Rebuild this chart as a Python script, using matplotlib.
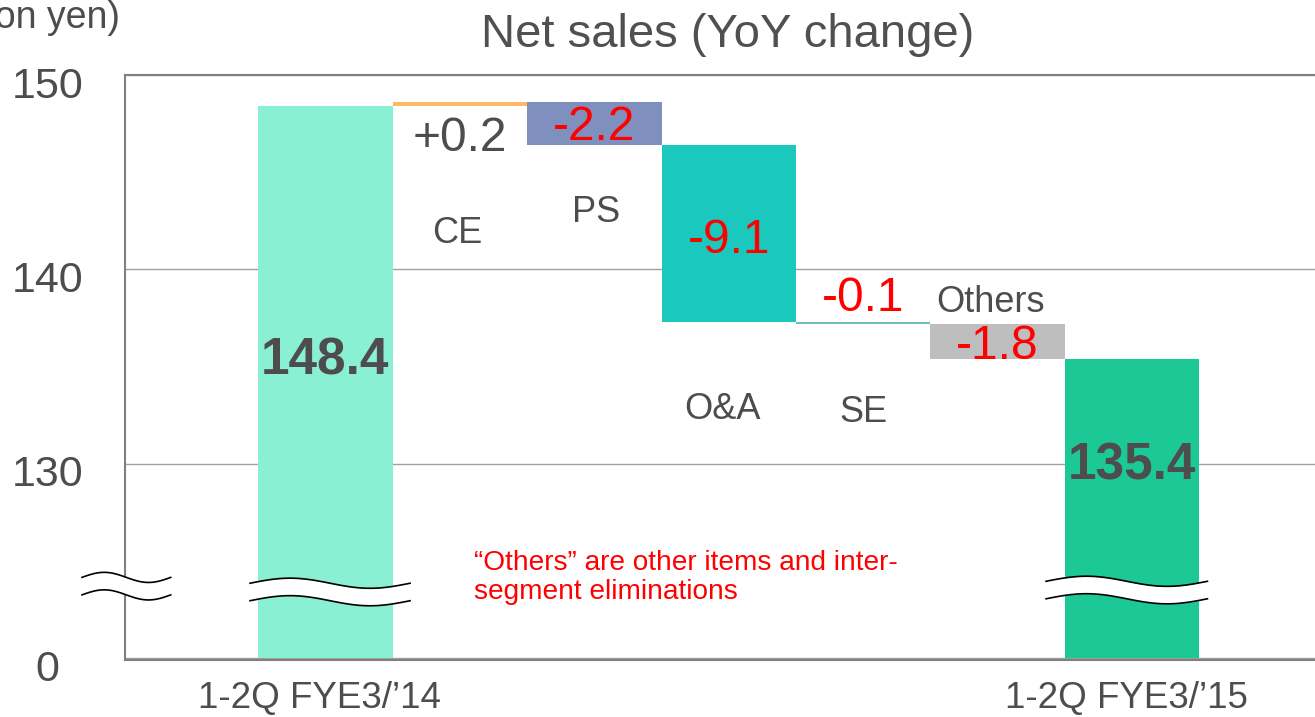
import numpy as np
import matplotlib.pyplot as plt
from matplotlib.transforms import ScaledTranslation

plt.rcParams['font.family'] = ['Liberation Sans', 'DejaVu Sans']

# data (billion yen)
start_label = "1-2Q FYE3/\u201914"
end_label = "1-2Q FYE3/\u201915"
start_value = 148.4
end_value = 135.4
segments = ["CE", "PS", "O&A", "SE", "Others"]
deltas = [0.2, -2.2, -9.1, -0.1, -1.8]
delta_texts = ["+0.2", "-2.2", "-9.1", "-0.1", "-1.8"]
yticks = [120, 130, 140, 150]
ytick_labels = ["0", "130", "140", "150"]

base = 120  # broken axis: bottom of the plot stands for zero

start_color = "#8AF0D4"
end_color = "#1CC896"
seg_colors = ["#FFB866", "#8090BE", "#1AC8BE", "#6CC0B6", "#BEBEBE"]
gray_txt = "#4D4D4D"
red = "#FF0000"

fig = plt.figure(figsize=(13.15, 7.17), dpi=100)
ax = fig.add_axes([125 / 1315, 1 - 660 / 717, 1 - 125 / 1315, 585 / 717])

x = np.arange(len(segments) + 2)

# start and end bars
ax.bar(x[0], start_value - base, bottom=base, width=1.0, color=start_color, zorder=2)
ax.bar(x[-1], end_value - base, bottom=base, width=1.0, color=end_color, zorder=2)

# floating bars
level = start_value
for i, d in enumerate(deltas):
    lo = min(level, level + d)
    ax.bar(x[i + 1], abs(d), bottom=lo, width=1.0, color=seg_colors[i], zorder=2)
    level += d

# value labels
ax.text(x[0], 135.26, f"{start_value:.1f}", ha="center", va="center",
        fontsize=37, fontweight="bold", color=gray_txt, zorder=4)
ax.text(x[-1], 129.86, f"{end_value:.1f}", ha="center", va="center",
        fontsize=37, fontweight="bold", color=gray_txt, zorder=4)

delta_y = [146.71, 147.31, 141.48, 138.5, 136.03]
name_y = [141.85, 142.9, 132.78, 132.63, 138.28]
name_dx = [-0.02, 0.01, -0.045, 0.0, -0.05]
for i in range(len(segments)):
    c = gray_txt if deltas[i] > 0 else red
    ax.text(x[i + 1], delta_y[i], delta_texts[i], ha="center", va="center",
            fontsize=34.5, color=c, zorder=4)
    ax.text(x[i + 1] + name_dx[i], name_y[i], segments[i], ha="center", va="center",
            fontsize=26, color=gray_txt, zorder=4)

ax.text(1.106, 124.15, "\u201cOthers\u201d are other items and inter-\nsegment eliminations",
        ha="left", va="center", fontsize=20.2, color=red, linespacing=1.12, zorder=4)


# break marks
def wave(x0, x1, yc, gap=0.9, amp=0.26, clip=True):
    t = np.linspace(0, 1, 100)
    xs = x0 + (x1 - x0) * t
    yw = amp * np.sin(2 * np.pi * t)
    ax.fill_between(xs, yc + gap / 2 + yw, yc - gap / 2 + yw, color="white",
                    zorder=5, clip_on=clip, lw=0)
    ax.plot(xs, yc + gap / 2 + yw, color="black", lw=1.2, zorder=6, clip_on=clip)
    ax.plot(xs, yc - gap / 2 + yw, color="black", lw=1.2, zorder=6, clip_on=clip)


wave(-1.81, -1.15, 123.7, clip=False)
wave(x[0] - 0.56, x[0] + 0.63, 123.4)
wave(x[-1] - 0.64, x[-1] + 0.56, 123.5)

# axes styling
ax.set_xlim(-1.49, 7.36)
ax.set_ylim(119.9, 150)
ax.set_yticks(yticks)
ax.set_yticklabels(ytick_labels, fontsize=31, color=gray_txt, ha="center",
                   va="center_baseline")
ax.set_xticks([x[0], x[-1]])
ax.set_xticklabels([start_label, end_label], fontsize=26.5, color=gray_txt)
ax.tick_params(axis="y", length=0, pad=56)
ax.tick_params(axis="x", length=0, pad=15)

# nudge tick labels (after tick_params, which resets their transforms)
yshift = ScaledTranslation(0, -7 / 100, fig.dpi_scale_trans)
for lbl in ax.get_yticklabels():
    lbl.set_transform(lbl.get_transform() + yshift)
xshift = ScaledTranslation(-6 / 100, 0, fig.dpi_scale_trans)
for lbl in ax.get_xticklabels():
    lbl.set_transform(lbl.get_transform() + xshift)

ax.yaxis.grid(True, color="#A0A0A0", lw=1)
ax.set_axisbelow(True)
for s in ["top", "left", "bottom"]:
    ax.spines[s].set_color("#808080")
    ax.spines[s].set_linewidth(1.5)
ax.spines["right"].set_visible(False)

fig.text(728 / 1315, 1 - 35 / 717, "Net sales (YoY change)", ha="center", va="center",
         fontsize=34, color="#505050")
fig.text(120 / 1315, 1 - 18 / 717, "(Billion yen)", ha="right", va="center",
         fontsize=27, color=gray_txt)

fig.savefig("out.png", dpi=100)
